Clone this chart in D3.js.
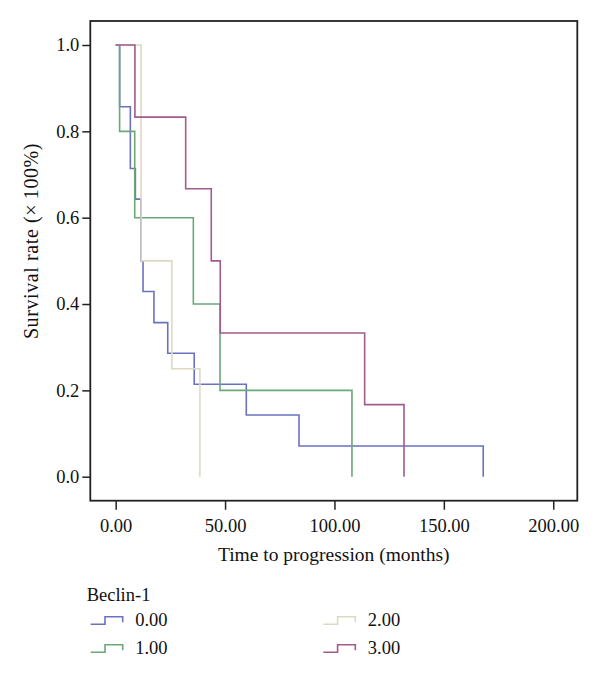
<!DOCTYPE html>
<html><head><meta charset="utf-8">
<script src="https://cdn.jsdelivr.net/npm/d3@7"></script>
<style>body{margin:0;background:#fff} svg{display:block}</style>
</head><body><svg id="c" width="600" height="681"></svg>
<script>
// ---- data ----
const groups = ["0.00", "1.00", "2.00", "3.00"];
const legendTitle = "Beclin-1";
const times0 = [1.8, 6.7, 9.0, 11.5, 12.5, 17.5, 23.8, 35.9, 59.7, 83.8, 168];
const surv0  = [0.857, 0.714, 0.643, 0.5, 0.429, 0.357, 0.286, 0.214, 0.143, 0.071, 0];
const times1 = [1.8, 8.7, 35.5, 47.7, 108];
const surv1  = [0.8, 0.6, 0.4, 0.2, 0];
const times2 = [11.6, 25.7, 38.5];
const surv2  = [0.5, 0.25, 0];
const times3 = [8.8, 32, 43.7, 47.8, 113.8, 131.8];
const surv3  = [0.833, 0.667, 0.5, 0.333, 0.167, 0];
const xTicks = [0, 50, 100, 150, 200];
const yTicks = [0, 0.2, 0.4, 0.6, 0.8, 1.0];
const xTitle = "Time to progression (months)";
const yTitle = "Survival rate (\u00d7\u2009100%)";

const colors = ["#6a72bd", "#6aa878", "#dcd9c3", "#a35a8c"];
const font = "'Liberation Serif', 'DejaVu Serif', serif";

const series = [[times0, surv0], [times1, surv1], [times2, surv2], [times3, surv3]]
  .map(([t, s]) => [[0, 1]].concat(t.map((d, i) => [d, s[i]])));

const L = 90.3, R = 577.3, T = 21, B = 500.7;
const x = d3.scaleLinear().domain([-11.6, 211]).range([L, R]);
const y = d3.scaleLinear().domain([-0.0556, 1.0556]).range([B, T]);

const svg = d3.select("#c");
const line = d3.line().x(d => x(d[0])).y(d => y(d[1])).curve(d3.curveStepAfter);

svg.append("g").selectAll("path").data(series).join("path")
  .attr("d", line).attr("fill", "none")
  .attr("stroke", (d, i) => colors[i]).attr("stroke-width", 1.6);

// frame
svg.append("rect").attr("x", L).attr("y", T).attr("width", R - L).attr("height", B - T)
  .attr("fill", "none").attr("stroke", "#222").attr("stroke-width", 1.8);

// axes
const xAxis = d3.axisBottom(x).tickValues(xTicks).tickFormat(d3.format(".2f")).tickSize(9).tickPadding(9);
const gx = svg.append("g").attr("transform", `translate(0,${B})`).call(xAxis);
const yAxis = d3.axisLeft(y).tickValues(yTicks).tickFormat(d3.format(".1f")).tickSize(8).tickPadding(3);
const gy = svg.append("g").attr("transform", `translate(${L},0)`).call(yAxis);
[gx, gy].forEach(g => {
  g.select(".domain").remove();
  g.selectAll(".tick line").attr("stroke", "#222").attr("stroke-width", 1.5);
  g.selectAll(".tick text").attr("font-family", font).attr("font-size", 18.5).attr("fill", "#111");
});

svg.append("text").attr("x", (L + R) / 2).attr("y", 561).attr("text-anchor", "middle")
  .attr("font-family", font).attr("font-size", 19.5).attr("fill", "#111").text(xTitle);
svg.append("text").attr("transform", "translate(38,241) rotate(-90)").attr("text-anchor", "middle")
  .attr("font-family", font).attr("font-size", 20).attr("letter-spacing", 0.6).attr("fill", "#111")
  .text(yTitle);

// legend
svg.append("text").attr("x", 86.7).attr("y", 600.5).attr("font-family", font)
  .attr("font-size", 18.5).attr("fill", "#111").text(legendTitle);
const legPos = [[90.7, 626], [90.7, 654], [323.3, 626], [323.3, 654]];
groups.forEach((g, i) => {
  const [lx, ly] = legPos[i];
  const lo = ly - 1.7, hi = ly - 9.3;
  svg.append("path").attr("d", `M${lx},${lo}H${lx + 14.3}V${hi}H${lx + 32}V${lo - 2}`)
    .attr("fill", "none").attr("stroke", colors[i]).attr("stroke-width", 1.6);
  svg.append("text").attr("x", lx + 44.5).attr("y", ly).attr("font-family", font)
    .attr("font-size", 18.5).attr("fill", "#111").text(g);
});
</script></body></html>
